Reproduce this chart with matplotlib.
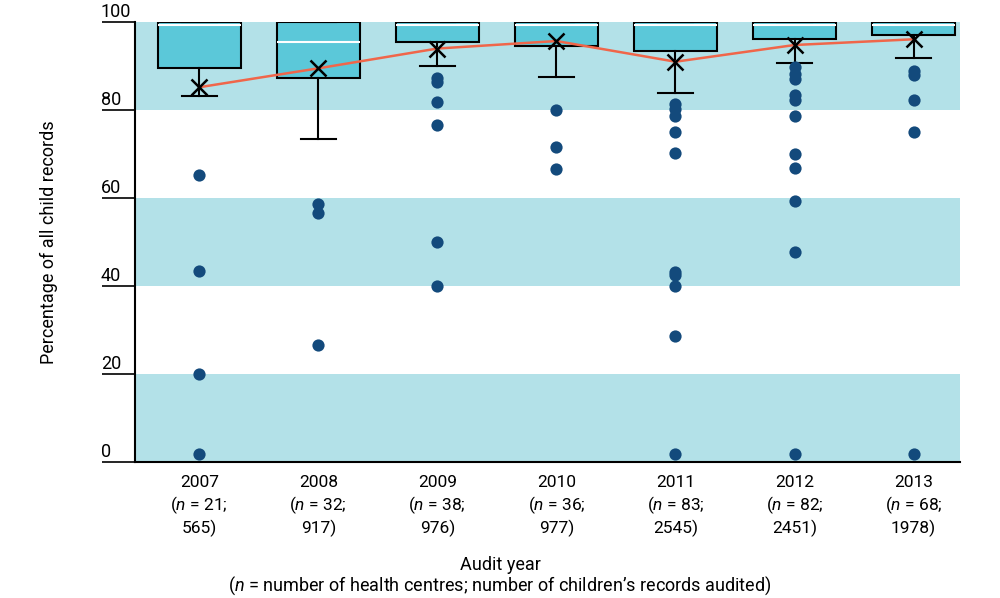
import matplotlib
matplotlib.use("Agg")
import matplotlib.pyplot as plt

plt.rcParams['font.family'] = ['Roboto', 'DejaVu Sans']
plt.rcParams['mathtext.fontset'] = 'custom'
plt.rcParams['mathtext.it'] = 'Roboto:italic'
plt.rcParams['mathtext.rm'] = 'Roboto'

years = ['2007', '2008', '2009', '2010', '2011', '2012', '2013']
centres = [21, 32, 38, 36, 83, 82, 68]
records = [565, 917, 976, 977, 2545, 2451, 1978]

q1 = [89.5, 87.3, 95.5, 94.5, 93.4, 96.1, 97.1]
q3 = [100, 100, 100, 100, 100, 100, 100]
medians = [99.3, 95.5, 99.3, 99.3, 99.3, 99.3, 99.3]
whisk_low = [83.3, 73.4, 90.0, 87.5, 84.0, 90.8, 91.9]
means = [85.2, 89.5, 94.0, 95.7, 91.0, 94.8, 96.1]
outliers = [
  [65.2, 43.4, 20.0, 1.8],
  [58.6, 56.7, 26.6],
  [87.3, 86.4, 81.8, 76.6, 50.0, 40.0],
  [80.0, 71.6, 66.6],
  [81.3, 80.2, 78.6, 75.0, 70.3, 43.3, 42.5, 40.0, 28.6, 1.8],
  [89.8, 88.3, 87.0, 83.4, 82.4, 78.6, 70.0, 66.8, 59.3, 47.8, 1.8],
  [88.8, 88.0, 82.3, 75.0, 1.8],
]

band_color = "#b3e1e8"
box_color = "#5bc8d9"
dot_color = "#134a7c"
mean_line_color = "#f0664a"

fig = plt.figure(figsize=(10, 5.98), dpi=100)
ax = fig.add_axes([0.135, 0.2274, 0.825, 0.7356])

for lo, hi in [(0, 20), (40, 60), (80, 100)]:
  ax.axhspan(lo, hi, color=band_color, lw=0, zorder=0)

stats = []
for i in range(len(years)):
  stats.append(dict(med=medians[i], q1=q1[i], q3=q3[i], whislo=whisk_low[i],
                    whishi=q3[i], mean=means[i], fliers=[]))

positions = list(range(len(years)))
ax.bxp(stats, positions=positions, widths=0.70, patch_artist=True, showmeans=False,
       showfliers=False,
       boxprops=dict(facecolor=box_color, edgecolor='black', linewidth=1.5),
       medianprops=dict(color='white', linewidth=1.5),
       whiskerprops=dict(color='black', linewidth=1.5),
       capprops=dict(color='black', linewidth=1.5),
       capwidths=0.29, zorder=3)

for i, vals in enumerate(outliers):
  ax.plot([i] * len(vals), vals, 'o', color=dot_color, markersize=8.8, mec='none',
          zorder=4, clip_on=False)

ax.plot(positions, means, color=mean_line_color, lw=1.8, zorder=5)
ax.plot(positions, means, 'x', color='black', markersize=11, mew=1.8, zorder=6)

ax.set_xlim(-0.54, 6.39)
ax.set_ylim(0, 100)

for s in ['top', 'right']:
  ax.spines[s].set_visible(False)
ax.spines['left'].set_linewidth(1.5)
ax.spines['bottom'].set_linewidth(1.5)

yticks = [0, 20, 40, 60, 80, 100]
ax.set_yticks(yticks)
ax.set_yticklabels([])
ax.tick_params(axis='y', length=24, width=1.2, direction='out')
for v in yticks:
  ax.annotate(str(v), xy=(0, v), xycoords=('axes fraction', 'data'),
              xytext=(-34, 1), textcoords='offset pixels', ha='left', va='bottom',
              fontsize=13)

xlabels = []
for y, c, r in zip(years, centres, records):
  xlabels.append(f"{y}\n($\\it{{n}}$ = {c};\n{r})")
ax.set_xticks(positions)
ax.set_xticklabels(xlabels, fontsize=12.5, linespacing=1.3)
ax.tick_params(axis='x', length=0, pad=9)

ax.set_ylabel('Percentage of all child records', fontsize=13, labelpad=28)
fig.text(0.5, 0.055, 'Audit year', ha='center', va='center', fontsize=13)
fig.text(0.5, 0.021, '($\\it{n}$ = number of health centres; number of children\u2019s records audited)',
         ha='center', va='center', fontsize=13)

fig.savefig('out.png', dpi=100)
